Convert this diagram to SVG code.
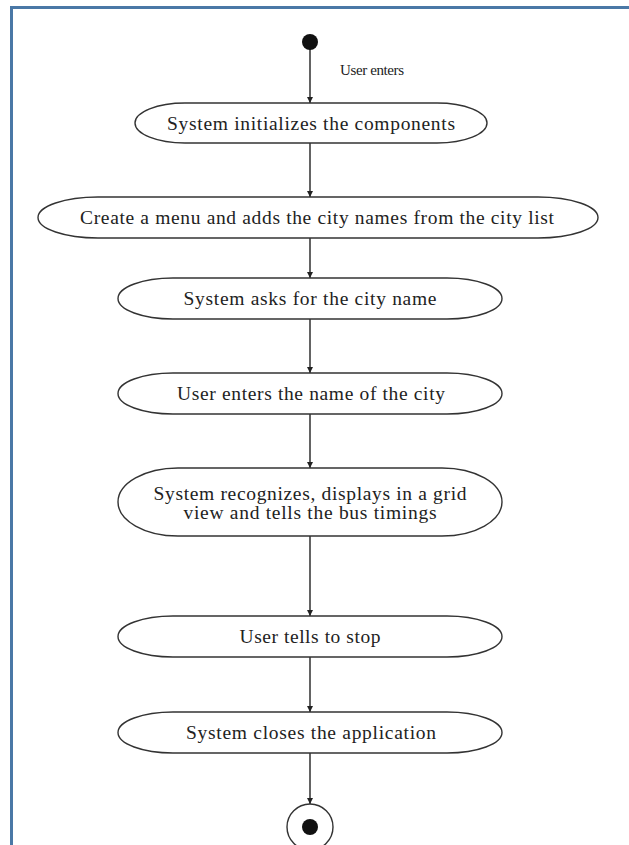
<svg xmlns="http://www.w3.org/2000/svg" width="629" height="845" viewBox="0 0 629 845">
  <style>
    .frame { stroke: #4a78a6; stroke-width: 3; fill: none; }
    .state { fill: #ffffff; stroke: #333333; stroke-width: 1.4; }
    .label { font-family: "Liberation Serif", "Times New Roman", serif; font-size: 19.5px; fill: #222222; text-anchor: middle; }
    .edge { stroke: #222222; stroke-width: 1.4; fill: none; marker-end: url(#arrow); }
  </style>
  <defs>
    <marker id="arrow" viewBox="0 0 10 10" refX="10" refY="5" markerWidth="6" markerHeight="6" markerUnits="userSpaceOnUse" orient="auto">
      <path d="M0,0 L10,5 L0,10 z" fill="#222222"/>
    </marker>
  </defs>

  <rect width="629" height="845" fill="#ffffff"/>

  <!-- page frame (top and left edges only) -->
  <path class="frame" d="M11.5,845 V7.5 H629"/>

  <g id="connectors">
    <line class="edge" x1="310" y1="49" x2="310" y2="103"/>
    <line class="edge" x1="310" y1="143" x2="310" y2="197"/>
    <line class="edge" x1="310" y1="238" x2="310" y2="278"/>
    <line class="edge" x1="310" y1="319" x2="310" y2="373"/>
    <line class="edge" x1="310" y1="414" x2="310" y2="468"/>
    <line class="edge" x1="310" y1="536" x2="310" y2="616"/>
    <line class="edge" x1="310" y1="657" x2="310" y2="712"/>
    <line class="edge" x1="310" y1="753" x2="310" y2="804"/>
    <text class="label" x="372" y="75" style="font-size:15px" textLength="64" lengthAdjust="spacing">User enters</text>
  </g>

  <g id="start">
    <circle cx="310" cy="42" r="8" fill="#111111"/>
  </g>

  <g id="init">
    <rect class="state" x="135" y="103" width="352" height="40" rx="50" ry="20"/>
    <text class="label" x="311" y="130" textLength="288" lengthAdjust="spacing">System initializes the components</text>
  </g>

  <g id="menu">
    <rect class="state" x="38" y="197" width="560" height="41" rx="60" ry="20.5"/>
    <text class="label" x="317" y="224" textLength="474" lengthAdjust="spacing">Create a menu and adds the city names from the city list</text>
  </g>

  <g id="ask">
    <rect class="state" x="118" y="278" width="384" height="41" rx="55" ry="20.5"/>
    <text class="label" x="310" y="305" textLength="253" lengthAdjust="spacing">System asks for the city name</text>
  </g>

  <g id="enter">
    <rect class="state" x="118" y="373" width="384" height="41" rx="55" ry="20.5"/>
    <text class="label" x="311" y="400" textLength="268" lengthAdjust="spacing">User enters the name of the city</text>
  </g>

  <g id="show">
    <rect class="state" x="118" y="468" width="384" height="68" rx="60" ry="34"/>
    <text class="label" x="310" y="500" textLength="313" lengthAdjust="spacing">System recognizes, displays in a grid</text>
    <text class="label" x="310" y="519" textLength="253" lengthAdjust="spacing">view and tells the bus timings</text>
  </g>

  <g id="stop">
    <rect class="state" x="118" y="616" width="384" height="41" rx="55" ry="20.5"/>
    <text class="label" x="310" y="643" textLength="141" lengthAdjust="spacing">User tells to stop</text>
  </g>

  <g id="close">
    <rect class="state" x="118" y="712" width="384" height="41" rx="55" ry="20.5"/>
    <text class="label" x="311" y="739" textLength="250" lengthAdjust="spacing">System closes the application</text>
  </g>

  <g id="end">
    <circle cx="310" cy="827" r="23" fill="#ffffff" stroke="#333333" stroke-width="1.4"/>
    <circle cx="310" cy="827" r="8" fill="#111111"/>
  </g>
</svg>
